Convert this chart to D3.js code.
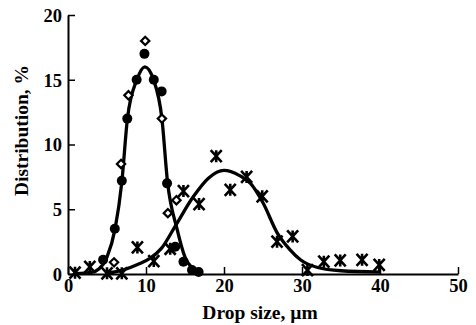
<!DOCTYPE html>
<html><head><meta charset="utf-8">
<script src="https://cdn.jsdelivr.net/npm/d3@7"></script>
<style>
html,body{margin:0;padding:0;background:#fff;}
svg{display:block;}
text{font-family:"Liberation Serif","Times New Roman",serif;font-weight:bold;fill:#000;}
</style></head>
<body>
<svg id="chart" width="476" height="325"></svg>
<script>
// ---- data ----
const xTicks = [0, 10, 20, 30, 40, 50];
const yTicks = [0, 5, 10, 15, 20];
const xTitle = "Drop size, \u00b5m";
const yTitle = "Distribution, %";

// fitted curve 1 (narrow peak ~10 µm)
const curve1X = [1, 3, 4, 5, 6.04, 6.9, 7.62, 8.83, 9.85, 10.97, 12.04, 12.76, 13.97, 15, 16, 17];
const curve1Y = [0.03, 0.12, 0.4, 1.3, 3.5, 7.1, 12, 15, 16, 15, 12, 7.1, 3.5, 1.3, 0.4, 0.1];
// fitted curve 2 (wide peak ~20 µm)
const curve2X = [5, 7, 9, 10.5, 12, 13.75, 16.1, 18, 20, 22, 23.4, 25, 26.8, 28.5, 29.8, 32, 35, 40];
const curve2Y = [0.05, 0.3, 0.75, 1.2, 2.0, 3.7, 6.0, 7.4, 8.0, 7.6, 7.0, 5.5, 3.2, 1.85, 1.1, 0.5, 0.25, 0.15];

// filled circles
const circX = [4.5, 6.0, 6.9, 7.6, 8.8, 9.8, 11.0, 12.0, 12.7, 13.75, 14.8, 15.9, 16.75];
const circY = [1.1, 3.5, 7.2, 12.0, 15.0, 17.0, 15.0, 14.1, 7.0, 2.1, 0.95, 0.3, 0.15];
// open diamonds
const diaX = [5.9, 6.8, 7.75, 9.9, 12.04, 12.8, 13.9];
const diaY = [0.9, 8.5, 13.8, 18.0, 12.0, 4.7, 5.7];
// asterisks
const astX = [0.9, 2.8, 5.0, 6.9, 8.9, 11.0, 13.1, 14.8, 16.8, 19.0, 20.8, 22.9, 24.9, 26.8, 28.8, 30.7, 32.8, 34.9, 37.7, 39.9];
const astY = [0.1, 0.55, 0.05, 0.05, 2.05, 1.0, 1.95, 6.4, 5.4, 9.1, 6.5, 7.5, 6.0, 2.5, 2.9, 0.3, 0.95, 1.05, 1.1, 0.7];

// ---- drawing ----
const svg = d3.select("#chart");
const x = d3.scaleLinear().domain([0, 50]).range([68, 458]);
const y = d3.scaleLinear().domain([0, 20]).range([274, 15]);

// axes
const gx = svg.append("g").attr("transform", `translate(0,${y(0)})`)
  .call(d3.axisBottom(x).tickValues(xTicks).tickSizeInner(-7).tickSizeOuter(0).tickPadding(5));
const gy = svg.append("g").attr("transform", `translate(${x(0)},0)`)
  .call(d3.axisLeft(y).tickValues(yTicks).tickSizeInner(-7).tickSizeOuter(0).tickPadding(6));
[gx, gy].forEach(g => {
  g.select(".domain").attr("stroke", "#000").attr("stroke-width", 2);
  g.selectAll(".tick line").attr("stroke", "#000").attr("stroke-width", 1.5);
  g.selectAll(".tick text").style("font-family", '"Liberation Serif",serif')
    .style("font-weight", "bold").style("font-size", "18.5px").attr("fill", "#000");
});
gy.selectAll(".tick text").attr("dy", "0.35em");

// titles
svg.append("text").attr("x", 260).attr("y", 319).attr("text-anchor", "middle")
  .style("font-size", "19.5px").text(xTitle);
svg.append("text").attr("transform", `translate(28,${y(10) - 14}) rotate(-90)`)
  .attr("text-anchor", "middle").style("font-size", "19.5px").text(yTitle);

// curves
const line = d3.line().x(d => x(d[0])).y(d => y(d[1])).curve(d3.curveMonotoneX);
const c1 = curve1X.map((v, i) => [v, curve1Y[i]]);
const c2 = curve2X.map((v, i) => [v, curve2Y[i]]);
[c1, c2].forEach(c => svg.append("path").attr("d", line(c)).attr("fill", "none")
  .attr("stroke", "#000").attr("stroke-width", 3.3).attr("stroke-linejoin", "round"));

// asterisks
const astPath = "M0,-6L0,6M-5.5,-6L5.5,6M5.5,-6L-5.5,6";
svg.append("g").selectAll("path").data(astX.map((v, i) => [v, astY[i]])).join("path")
  .attr("transform", d => `translate(${x(d[0])},${y(d[1])})`)
  .attr("d", astPath).attr("fill", "none").attr("stroke", "#000").attr("stroke-width", 2.6);

// filled circles
svg.append("g").selectAll("circle").data(circX.map((v, i) => [v, circY[i]])).join("circle")
  .attr("cx", d => x(d[0])).attr("cy", d => y(d[1])).attr("r", 5).attr("fill", "#000");

// open diamonds
const dia = d3.symbol().type(d3.symbolDiamond2).size(44);
svg.append("g").selectAll("path").data(diaX.map((v, i) => [v, diaY[i]])).join("path")
  .attr("transform", d => `translate(${x(d[0])},${y(d[1])})`)
  .attr("d", dia()).attr("fill", "#fff").attr("stroke", "#000").attr("stroke-width", 2.2);
</script>
</body></html>
